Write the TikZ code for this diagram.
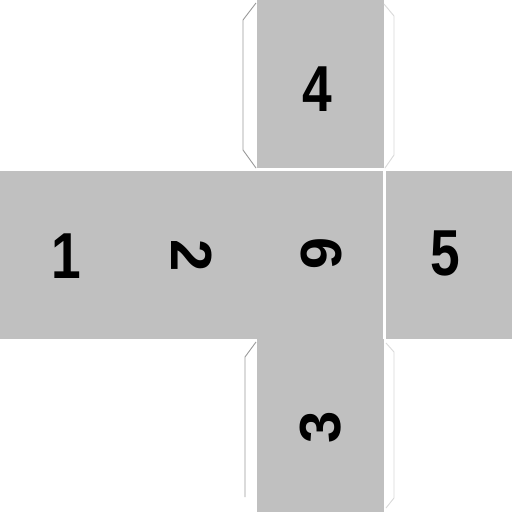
\documentclass[tikz,border=0pt]{standalone}
\usepackage{fontspec}
\setmainfont{Liberation Sans}
\definecolor{facegray}{HTML}{C0C0C0}
\definecolor{flapdark}{HTML}{9A9A9A}
\definecolor{flaplight}{HTML}{DADADA}
\begin{document}
\begin{tikzpicture}[x=1pt,y=-1pt,
  face/.style={fill=facegray, draw=none, inner sep=0pt, outer sep=0pt, anchor=north west},
  digit/.style={font=\fontsize{65}{65}\selectfont\bfseries, text=black, inner sep=0pt, xscale=0.82},
  rdigit/.style={font=\fontsize{58}{58}\selectfont\bfseries, text=black, inner sep=0pt},
  flapline/.style={draw=flapdark, line width=0.9pt, line join=round},
  flapfaint/.style={draw=flaplight, line width=0.9pt, line join=round}]
\useasboundingbox (0,0) rectangle (512,512);
\fill[white] (0,0) rectangle (512,512);
% faces
\node[face, minimum width=129pt, minimum height=168pt] (f1) at (0,171) {};
\node[face, minimum width=128pt, minimum height=168pt] (f2) at (128,171) {};
\node[face, minimum width=127pt, minimum height=168pt] (f6) at (256,171) {};
\node[face, minimum width=126pt, minimum height=168pt] (f5) at (386,171) {};
\node[face, minimum width=127pt, minimum height=169pt] (f4) at (256.5,0) {};
\node[face, minimum width=127pt, minimum height=174pt] (f3) at (256.5,339) {};
% thin white seam between face 4 and the strip
\draw[white, line width=1.2pt] (f4.south west) -- (f4.south east);
% flaps
\coordinate (t1) at (256,3);
\coordinate (t2) at (243,20);
\coordinate (t3) at (243,150);
\coordinate (t4) at (256,168);
\draw[flapline] (t1) -- (t2) -- (t3) -- (t4);
\coordinate (r1) at (384,4);
\coordinate (r2) at (394,16);
\coordinate (r3) at (394,155);
\coordinate (r4) at (385,168);
\draw[flapfaint] (r1) -- (r2) -- (r3) -- (r4);
\coordinate (b1) at (256,342);
\coordinate (b2) at (245,357);
\coordinate (b3) at (245,497);
\draw[flapline] (b1) -- (b2) -- (b3);
\coordinate (c1) at (386,343);
\coordinate (c2) at (394,352);
\coordinate (c3) at (394,498);
\coordinate (c4) at (386,508);
\draw[flapfaint] (c1) -- (c2) -- (c3) -- (c4);
% digits
\node[digit] (d1) at (66,256) {1};
\node[rdigit, rotate=-90] (d2) at (192,256) {2};
\node[rdigit, rotate=-90] (d6) at (321,254) {6};
\node[digit] (d5) at (445,253) {5};
\node[digit] (d4) at (317,89) {4};
\node[rdigit, rotate=90] (d3) at (321,427) {3};
\end{tikzpicture}
\end{document}
